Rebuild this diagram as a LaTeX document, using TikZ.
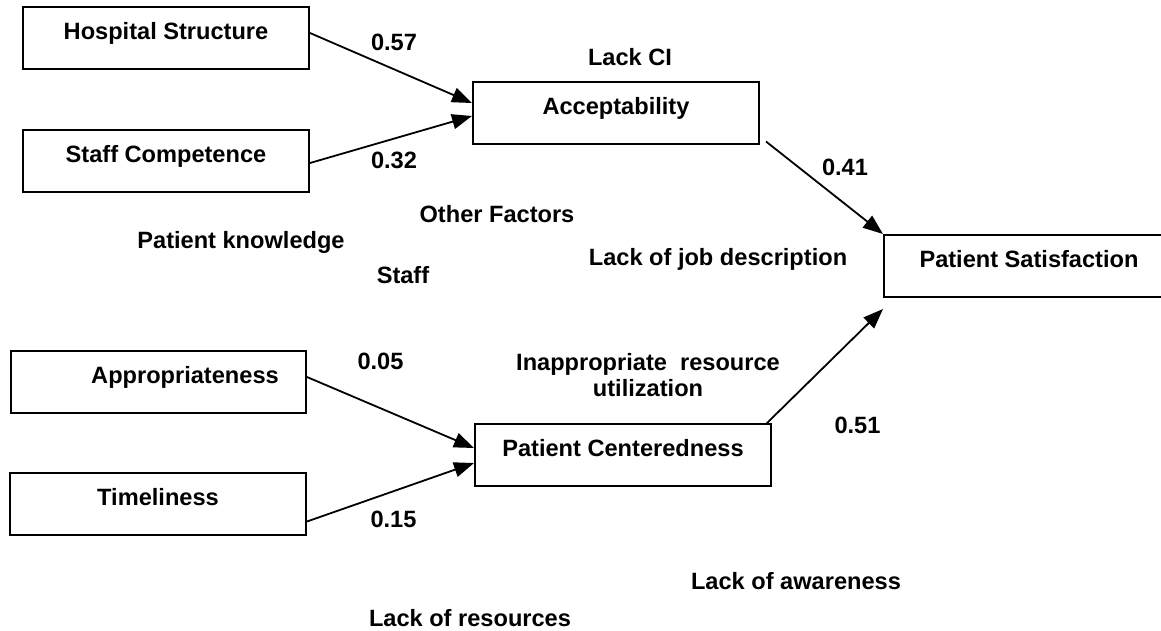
\documentclass[tikz,border=0pt]{standalone}
\usepackage{fontspec}
\setmainfont{Liberation Sans}
\usetikzlibrary{arrows.meta}

\begin{document}
\begin{tikzpicture}[x=1pt,y=-1pt,
	every node/.style={font=\fontsize{23.6}{26}\selectfont,inner sep=0pt},
	box/.style={shape=rectangle,draw=black,line width=2pt,text height=32.5pt,text depth=29.5pt},
	link/.style={line width=1.8pt,-{Triangle[length=20pt,width=15pt]}}]
	\useasboundingbox (0,0) rectangle (1161,630);

	\node[box,minimum width=286pt] (hosp) at (166, 38)    {\textbf{Hospital Structure}};
	\node[box,minimum width=286pt] (comp) at (166, 161)   {\textbf{Staff Competence}};
	\node[box,minimum width=286pt] (acc)  at (616, 112.5) {\textbf{Acceptability}};
	\node[box,minimum width=290pt] (sat)  at (1029, 266)  {\textbf{Patient Satisfaction}};
	\node[box,minimum width=295pt] (appr) at (158.5, 381.5) {\hspace*{53pt}\textbf{Appropriateness}};
	\node[box,minimum width=296pt] (tim)  at (158, 504)   {\textbf{Timeliness}};
	\node[box,minimum width=296pt] (pc)   at (623, 455)   {\textbf{Patient Centeredness}};

	\node[anchor=base] (lackci)   at (630, 65.5)  {\textbf{Lack CI}};
	\node[anchor=base] (other)    at (497, 222)   {\textbf{Other Factors}};
	\node[anchor=base] (know)     at (241, 248.5) {\textbf{Patient knowledge}};
	\node[anchor=base] (jobdesc)  at (718, 265)   {\textbf{Lack of job description}};
	\node[anchor=base] (staff)    at (403, 283.5) {\textbf{Staff}};
	\node[align=center] (inapp)   at (648, 375)   {\textbf{Inappropriate\ \ resource}\\\textbf{utilization}};
	\node[anchor=base] (aware)    at (796, 589.5) {\textbf{Lack of awareness}};
	\node[anchor=base] (resource) at (470, 626.5) {\textbf{Lack of resources}};

	\path[link] ([yshift=5pt]hosp.east) edge node[xshift=3pt,yshift=26pt]{\textbf{0.57}} ([yshift=9.5pt]acc.west);
	\path[link] ([yshift=-2pt]comp.east) edge node[xshift=3pt,yshift=-20.5pt]{\textbf{0.32}} ([yshift=-3.5pt]acc.west);
	\path[link] ([xshift=6pt,yshift=3pt]acc.south east) edge node[xshift=20.5pt,yshift=20.5pt]{\textbf{0.41}} (sat.north west);
	\path[link] ([xshift=-6pt,yshift=-1pt]pc.north east) edge node[xshift=33pt,yshift=-58.5pt]{\textbf{0.51}} ([yshift=-11pt]sat.south west);
	\path[link] ([yshift=4.5pt]appr.east) edge node[xshift=-10pt,yshift=51.5pt]{\textbf{0.05}} ([yshift=7pt]pc.west);
	\path[link] ([yshift=-17.5pt]tim.east) edge node[xshift=3pt,yshift=-27.5pt]{\textbf{0.15}} ([yshift=-8pt]pc.west);

\end{tikzpicture}
\end{document}
